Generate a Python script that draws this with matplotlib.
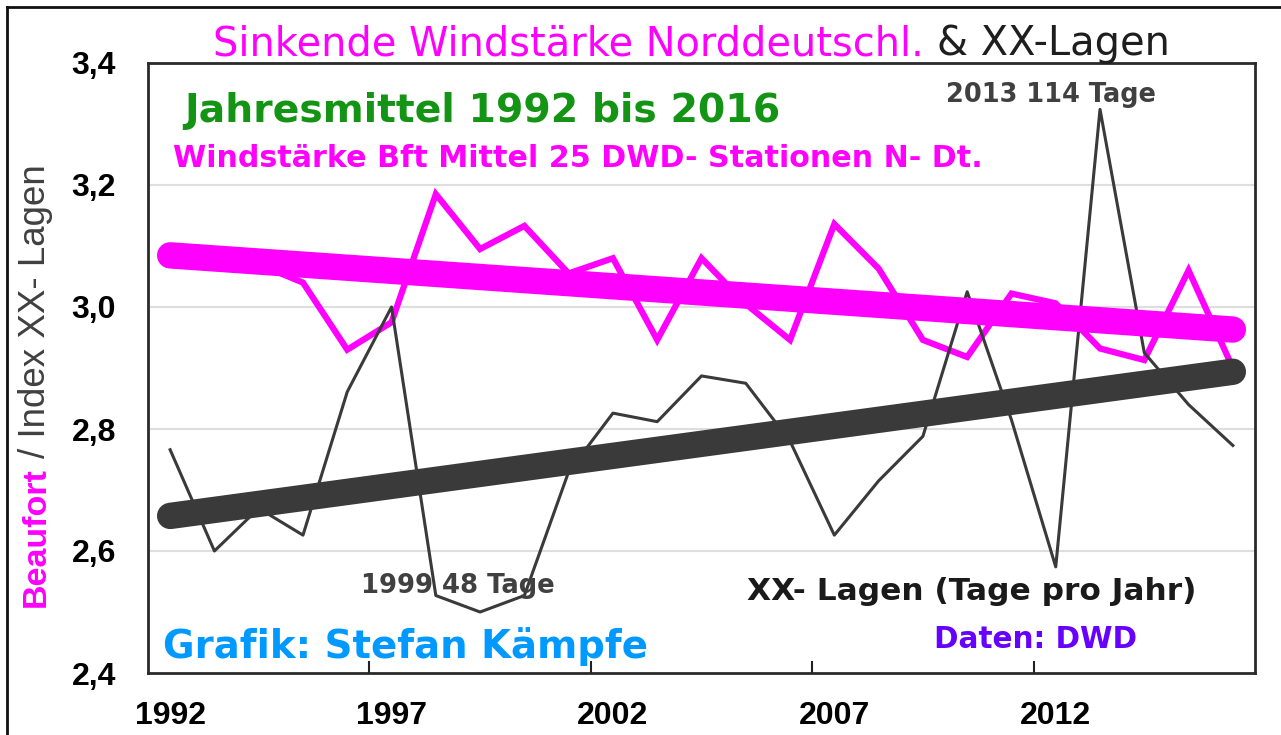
import numpy as np
import matplotlib
matplotlib.use("Agg")
import matplotlib.pyplot as plt
from matplotlib.lines import Line2D

plt.rcParams['font.family'] = ['Liberation Sans', 'DejaVu Sans']

years = list(range(1992, 2017))
wind_bft = [3.09, 3.07, 3.07, 3.04, 2.93, 2.975, 3.185, 3.095, 3.133, 3.055, 3.08,
            2.946, 3.08, 3.005, 2.946, 3.136, 3.063, 2.946, 2.918, 3.022, 3.006,
            2.932, 2.913, 3.06, 2.90]
xx_index = [2.766, 2.60, 2.67, 2.626, 2.861, 3.00, 2.527, 2.50, 2.527, 2.73, 2.826,
            2.812, 2.887, 2.875, 2.78, 2.626, 2.715, 2.788, 3.025, 2.815, 2.574,
            3.324, 2.925, 2.84, 2.773]
y_ticks = [2.4, 2.6, 2.8, 3.0, 3.2, 3.4]
y_ticklabels = ["2,4", "2,6", "2,8", "3,0", "3,2", "3,4"]
x_labelyears = [1992, 1997, 2002, 2007, 2012]

W, H = 1281, 735
fig = plt.figure(figsize=(W / 100, H / 100), dpi=100)
fig.patch.set_facecolor('white')

L, R, T, B = 148, 1255, 63, 673
ax = fig.add_axes([L / W, 1 - B / H, (R - L) / W, (B - T) / H])

PINK = '#ff00ff'
DARK = '#3b3a3a'

x = np.array(years, dtype=float)
yw = np.array(wind_bft)
yx = np.array(xx_index)
cw = np.polyfit(x, yw, 1)
cx = np.polyfit(x, yx, 1)

for yv in y_ticks[1:-1]:
    ax.axhline(yv, color='#dedede', lw=1.5, zorder=0)

ax.plot(x, yw, color=PINK, lw=4.5, zorder=2, solid_joinstyle='miter')
ax.plot(x, yx, color=DARK, lw=2.2, zorder=3)
ax.plot(x, np.polyval(cx, x), color=DARK, lw=19, solid_capstyle='round', zorder=4)
ax.plot(x, np.polyval(cw, x), color=PINK, lw=19, solid_capstyle='round', zorder=5)

ax.set_xlim(1991.5, 2016.5)
ax.set_ylim(2.4, 3.4)
ax.set_yticks(y_ticks)
ax.set_yticklabels(y_ticklabels, fontsize=23, fontweight='bold')
ax.tick_params(axis='y', length=0, pad=23)

ax.set_xticks([xv - 0.5 for xv in x_labelyears[1:]])
ax.set_xticklabels([])
ax.tick_params(axis='x', direction='in', length=9, width=1.5, color='#222222')
ax.set_xticks(x_labelyears, minor=True)
ax.set_xticklabels([str(v) for v in x_labelyears], minor=True, fontsize=23, fontweight='bold')
ax.tick_params(axis='x', which='minor', length=0, pad=20)

for s in ax.spines.values():
    s.set_color('#2a2a2a')
    s.set_linewidth(2)

fig.canvas.draw()
rend = fig.canvas.get_renderer()


def fit_text(x0, x1, baseline, s, family='DejaVu Sans', weight='bold', color='k', base=20):
    t = fig.text(x0 / W, 1 - baseline / H, s, fontsize=base, family=family,
                 fontweight=weight, color=color, ha='left', va='baseline')
    w = t.get_window_extent(renderer=rend).width
    t.set_fontsize(base * (x1 - x0) / w)
    return t


def fit_vtext(xb, y0, y1, s, family='DejaVu Sans', weight='bold', color='k', base=20):
    # rotated text reading bottom-to-top, starting at y0 (pixels from top) up to y1
    t = fig.text(xb / W, 1 - y0 / H, s, fontsize=base, family=family, fontweight=weight,
                 color=color, rotation=90, rotation_mode='anchor', ha='left', va='baseline')
    h = t.get_window_extent(renderer=rend).height
    t.set_fontsize(base * (y0 - y1) / h)
    return t


t1 = fit_text(213, 922, 55, "Sinkende Windstärke Norddeutschl.", weight='normal', color=PINK)
t2 = fit_text(937, 1166, 55, "& XX-Lagen", weight='normal', color='#1e1e1e')
t2.set_fontsize(t1.get_fontsize())

fit_text(184, 781, 122, "Jahresmittel 1992 bis 2016", color='#149414')
fit_text(173, 983, 167, "Windstärke Bft Mittel 25 DWD- Stationen N- Dt.", color=PINK)
fit_text(946, 1156, 102, "2013 114 Tage", color='#404040')
fit_text(361, 555, 593, "1999 48 Tage", color='#404040')
fit_text(747, 1196, 600, "XX- Lagen (Tage pro Jahr)", color='#1a1a1a')
fit_text(934, 1137, 648, "Daten: DWD", color='#6600ff')
fit_text(163, 647, 658, "Grafik: Stefan Kämpfe", color='#0099ff')

fit_vtext(45, 607, 467, "Beaufort", family='Liberation Sans', color=PINK)
fit_vtext(45, 458, 165, "/ Index XX- Lagen", family='Liberation Sans', weight='normal',
          color='#404040')

# outer border of the original picture
fig.add_artist(Line2D([7 / W, 7 / W], [0, 1 - 7 / H], color='#111111', lw=2))
fig.add_artist(Line2D([7 / W, 1], [1 - 7 / H, 1 - 7 / H], color='#111111', lw=2))

fig.savefig('out.png', dpi=100, facecolor='white')
